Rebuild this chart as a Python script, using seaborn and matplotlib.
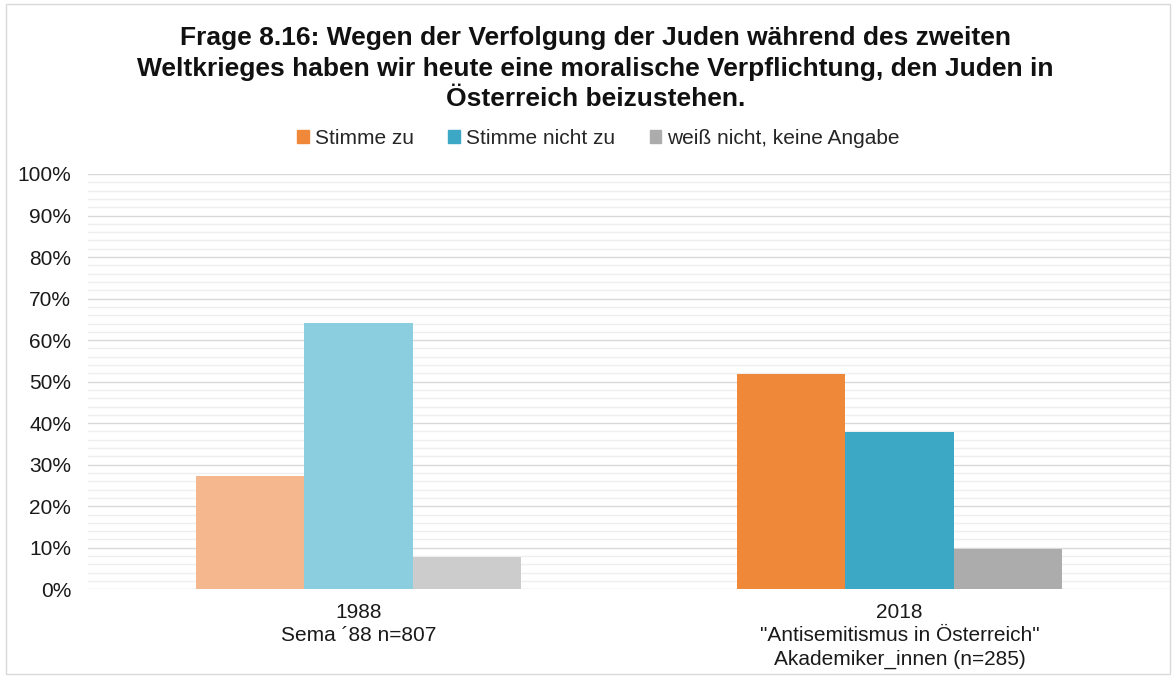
import matplotlib
matplotlib.use("Agg")
import matplotlib.pyplot as plt
import matplotlib.patches as mpatches
from matplotlib.ticker import MultipleLocator, PercentFormatter
import seaborn as sns
import pandas as pd

# ---- data ----
categories = ["1988\nSema \u00b488 n=807",
              "2018\n\"Antisemitismus in \u00d6sterreich\"\nAkademiker_innen (n=285)"]
answers = ["Stimme zu", "Stimme nicht zu", "wei\u00df nicht, keine Angabe"]
stimme_zu = [27.4, 51.8]
stimme_nicht_zu = [64.2, 37.9]
weiss_nicht = [7.8, 9.7]

title = ("Frage 8.16: Wegen der Verfolgung der Juden w\u00e4hrend des zweiten\n"
         "Weltkrieges haben wir heute eine moralische Verpflichtung, den Juden in\n"
         "\u00d6sterreich beizustehen.")

dark_colors = ["#F0883A", "#3DA8C5", "#ACACAC"]
light_colors = ["#F4B78E", "#8BCEDF", "#CCCCCC"]

rows = []
for i, cat in enumerate(categories):
    for ans, vals in zip(answers, [stimme_zu, stimme_nicht_zu, weiss_nicht]):
        rows.append({"cat": cat, "answer": ans, "value": vals[i]})
df = pd.DataFrame(rows)

sns.set_theme(style="white")
plt.rcParams["font.family"] = ["Liberation Sans", "DejaVu Sans"]

fig = plt.figure(figsize=(11.76, 6.77), dpi=100)
ax = fig.add_axes([0.0748, 0.1295, 0.9202, 0.6135])

sns.barplot(data=df, x="cat", y="value", hue="answer", hue_order=answers,
            order=categories, palette=dark_colors, width=0.6, ax=ax,
            legend=False, saturation=1, edgecolor="none", linewidth=0)

# lighter colours for 1988 bars
for i, cont in enumerate(ax.containers):
    cont.patches[0].set_facecolor(light_colors[i])

ax.set_ylim(0, 100)
ax.set_xlim(-0.5, 1.5)
ax.yaxis.set_major_locator(MultipleLocator(10))
ax.yaxis.set_minor_locator(MultipleLocator(2))
ax.yaxis.set_major_formatter(PercentFormatter(decimals=0))
ax.grid(axis="y", which="major", color="#D9D9D9", linewidth=1.0)
ax.grid(axis="y", which="minor", color="#EFEFEF", linewidth=1.0)
ax.set_axisbelow(True)
for s in ax.spines.values():
    s.set_visible(False)
ax.tick_params(axis="y", which="both", length=0, pad=12, labelsize=15, colors="#1a1a1a")
ax.tick_params(axis="x", length=0, pad=10, labelsize=15, colors="#1a1a1a")
ax.set_xlabel("")
ax.set_ylabel("")
for lbl in ax.get_xticklabels():
    lbl.set_linespacing(1.28)

fig.text(0.5065, 0.962, title, ha="center", va="top", fontsize=19,
         fontweight="bold", linespacing=1.36, color="#111111")

handles = [mpatches.Patch(color=c, label=a) for c, a in zip(dark_colors, answers)]
fig.legend(handles=handles, loc="center", bbox_to_anchor=(0.509, 0.796), ncol=3,
           frameon=False, fontsize=15, handlelength=0.55, handleheight=0.55,
           handletextpad=0.3, columnspacing=1.65)

fig.patches.append(mpatches.Rectangle((0.005, 0.004), 0.99, 0.99,
                                      transform=fig.transFigure, fill=False,
                                      edgecolor="#D9D9D9", linewidth=1))

fig.savefig("out.png", dpi=100)
